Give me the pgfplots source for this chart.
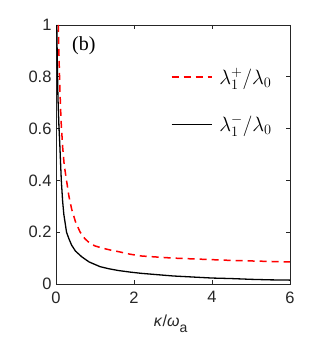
\documentclass[border=0pt]{standalone}
\usepackage{fontspec}
\setmainfont{Liberation Sans}
\newfontfamily\serif{Liberation Serif}
\usepackage{pgfplots}
\pgfplotsset{compat=1.18}

\definecolor{axgray}{RGB}{38,38,38}

\begin{document}
\begin{tikzpicture}
\begin{axis}[
    scale only axis,
    width=234bp, height=259bp,
    at={(0,0)}, anchor=south west,
    xmin=0, xmax=6, ymin=0, ymax=1,
    xtick={0,2,4,6},
    ytick={0,0.2,0.4,0.6,0.8,1},
    tick align=inside,
    major tick length=4bp,
    axis line style={axgray, line width=0.8bp},
    every tick/.style={axgray, line width=0.6bp},
    tick label style={font=\fontsize{16.5bp}{19bp}\selectfont, text=axgray},
    /pgf/number format/assume math mode=true,
    /pgf/number format/fixed,
    xticklabel style={yshift=-4bp},
    yticklabel style={xshift=-1bp},
    xlabel={\textit{κ}/\textit{ω}\raisebox{-6bp}{\fontsize{14bp}{16bp}\selectfont a}},
    xlabel style={font=\fontsize{16bp}{19bp}\selectfont, text=axgray,
        at={(rel axis cs:0.49,0)}, anchor=north, yshift=-27bp},
    legend cell align=left,
    legend style={draw=none, fill=none, at={(rel axis cs:0.49,0.708)}, anchor=west,
        font=\fontsize{22bp}{25bp}\selectfont, row sep=26bp, inner sep=0pt},
    legend image code/.code={\draw[#1] (0bp,0bp) -- (40bp,0bp); \path (45bp,0bp);},
]
\addplot[red, line width=1.5bp, dash pattern=on 7bp off 5bp] coordinates {
    (0.06,1.0) (0.08,0.86) (0.1,0.75) (0.13,0.63) (0.17,0.53) (0.21,0.46)
    (0.27,0.4) (0.33,0.34) (0.4,0.29) (0.5,0.24) (0.62,0.2) (0.74,0.175)
    (0.87,0.157) (1.0,0.147) (1.2,0.138) (1.4,0.131) (1.6,0.125) (1.9,0.115)
    (2.2,0.108) (2.6,0.104) (3.0,0.1) (3.5,0.097) (4.0,0.094) (4.5,0.091)
    (5.0,0.089) (5.5,0.087) (6.0,0.085)
};
\addlegendentry{$\lambda_1^{+}/\lambda_0$}
\addplot[black, line width=1.3bp] coordinates {
    (0.02,1.0) (0.035,0.84) (0.05,0.72) (0.075,0.61) (0.1,0.53) (0.136,0.4)
    (0.17,0.32) (0.2,0.27) (0.27,0.2) (0.33,0.175) (0.4,0.15) (0.5,0.127)
    (0.66,0.105) (0.85,0.085) (1.13,0.067) (1.35,0.059) (1.6,0.052)
    (1.9,0.046) (2.2,0.041) (2.6,0.036) (3.0,0.031) (3.5,0.027) (4.0,0.023)
    (4.5,0.021) (5.0,0.018) (5.5,0.016) (6.0,0.015)
};
\addlegendentry{$\lambda_1^{-}/\lambda_0$}
\node[anchor=west, font=\serif\fontsize{20bp}{23bp}\selectfont, inner sep=0pt]
    at (rel axis cs:0.068,0.919) {(b)};
\end{axis}
\pgfresetboundingbox
\useasboundingbox (-56bp,-61bp) rectangle (264bp,284bp);
\end{tikzpicture}
\end{document}
